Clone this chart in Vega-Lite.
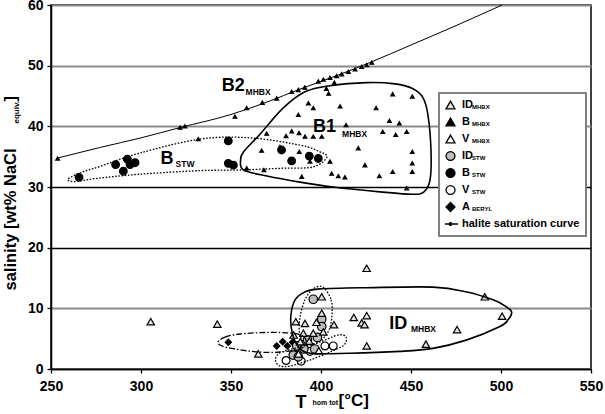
{
  "$schema": "https://vega.github.io/schema/vega-lite/v6.json",
  "width": 540,
  "height": 364,
  "autosize": {"type": "none"},
  "padding": {"left": 51, "top": 5, "right": 14, "bottom": 45},
  "background": "white",
  "config": {
    "view": {"stroke": "black", "strokeWidth": 1.5},
    "font": "Liberation Sans"
  },
  "datasets": {
    "pts": [
      {"series": "B_MHBX", "T": 253.7, "S": 34.7}, {"series": "B_MHBX", "T": 321.7, "S": 39.8}, {"series": "B_MHBX", "T": 324.4, "S": 40.0},
      {"series": "B_MHBX", "T": 331.8, "S": 37.9}, {"series": "B_MHBX", "T": 352.2, "S": 41.6}, {"series": "B_MHBX", "T": 358.7, "S": 43.0},
      {"series": "B_MHBX", "T": 367.4, "S": 43.9}, {"series": "B_MHBX", "T": 375.4, "S": 44.6}, {"series": "B_MHBX", "T": 383.7, "S": 45.7},
      {"series": "B_MHBX", "T": 387.4, "S": 46.0}, {"series": "B_MHBX", "T": 391.0, "S": 46.4}, {"series": "B_MHBX", "T": 398.5, "S": 47.4},
      {"series": "B_MHBX", "T": 401.3, "S": 47.7}, {"series": "B_MHBX", "T": 405.0, "S": 48.0}, {"series": "B_MHBX", "T": 408.7, "S": 48.3},
      {"series": "B_MHBX", "T": 411.5, "S": 48.6}, {"series": "B_MHBX", "T": 415.2, "S": 49.0}, {"series": "B_MHBX", "T": 418.9, "S": 49.4},
      {"series": "B_MHBX", "T": 422.6, "S": 49.8}, {"series": "B_MHBX", "T": 425.4, "S": 50.1}, {"series": "B_MHBX", "T": 428.2, "S": 50.5},
      {"series": "B_MHBX", "T": 403.0, "S": 46.2}, {"series": "B_MHBX", "T": 404.2, "S": 45.4}, {"series": "B_MHBX", "T": 407.4, "S": 47.2},
      {"series": "B_MHBX", "T": 387.4, "S": 41.9}, {"series": "B_MHBX", "T": 393.0, "S": 43.8}, {"series": "B_MHBX", "T": 395.7, "S": 43.0},
      {"series": "B_MHBX", "T": 410.6, "S": 43.3}, {"series": "B_MHBX", "T": 430.6, "S": 43.0}, {"series": "B_MHBX", "T": 439.8, "S": 45.3},
      {"series": "B_MHBX", "T": 450.7, "S": 44.9}, {"series": "B_MHBX", "T": 438.0, "S": 40.9}, {"series": "B_MHBX", "T": 443.5, "S": 40.5},
      {"series": "B_MHBX", "T": 413.9, "S": 40.2}, {"series": "B_MHBX", "T": 434.3, "S": 39.1}, {"series": "B_MHBX", "T": 441.5, "S": 38.6},
      {"series": "B_MHBX", "T": 447.6, "S": 39.1}, {"series": "B_MHBX", "T": 369.8, "S": 38.8}, {"series": "B_MHBX", "T": 380.6, "S": 38.4},
      {"series": "B_MHBX", "T": 383.7, "S": 39.2}, {"series": "B_MHBX", "T": 387.8, "S": 38.9}, {"series": "B_MHBX", "T": 391.1, "S": 38.3},
      {"series": "B_MHBX", "T": 395.7, "S": 38.3}, {"series": "B_MHBX", "T": 400.4, "S": 38.3}, {"series": "B_MHBX", "T": 367.0, "S": 36.0},
      {"series": "B_MHBX", "T": 377.2, "S": 36.6}, {"series": "B_MHBX", "T": 387.9, "S": 35.8}, {"series": "B_MHBX", "T": 420.7, "S": 36.4},
      {"series": "B_MHBX", "T": 450.7, "S": 35.8}, {"series": "B_MHBX", "T": 393.9, "S": 34.2}, {"series": "B_MHBX", "T": 405.0, "S": 34.2},
      {"series": "B_MHBX", "T": 424.4, "S": 33.6}, {"series": "B_MHBX", "T": 450.7, "S": 33.9}, {"series": "B_MHBX", "T": 358.7, "S": 33.1},
      {"series": "B_MHBX", "T": 368.3, "S": 32.8}, {"series": "B_MHBX", "T": 389.3, "S": 31.7}, {"series": "B_MHBX", "T": 405.9, "S": 32.2},
      {"series": "B_MHBX", "T": 409.6, "S": 31.8}, {"series": "B_MHBX", "T": 413.3, "S": 31.6}, {"series": "B_MHBX", "T": 432.4, "S": 31.8},
      {"series": "B_MHBX", "T": 439.8, "S": 32.5}, {"series": "B_MHBX", "T": 450.7, "S": 32.5}, {"series": "B_MHBX", "T": 447.6, "S": 29.8},
      {"series": "B_STW", "T": 265.6, "S": 31.6}, {"series": "B_STW", "T": 285.9, "S": 33.7}, {"series": "B_STW", "T": 290.2, "S": 32.6},
      {"series": "B_STW", "T": 292.4, "S": 34.6}, {"series": "B_STW", "T": 293.9, "S": 33.7}, {"series": "B_STW", "T": 296.7, "S": 34.0},
      {"series": "B_STW", "T": 348.5, "S": 37.6}, {"series": "B_STW", "T": 348.5, "S": 33.9}, {"series": "B_STW", "T": 351.3, "S": 33.6},
      {"series": "B_STW", "T": 378.1, "S": 36.1}, {"series": "B_STW", "T": 383.7, "S": 34.3}, {"series": "B_STW", "T": 393.5, "S": 35.1},
      {"series": "B_STW", "T": 398.5, "S": 34.7},
      {"series": "A_BERYL", "T": 348.5, "S": 4.4}, {"series": "A_BERYL", "T": 375.4, "S": 3.8}, {"series": "A_BERYL", "T": 378.7, "S": 4.5},
      {"series": "A_BERYL", "T": 381.3, "S": 3.8}, {"series": "A_BERYL", "T": 384.2, "S": 4.4}, {"series": "A_BERYL", "T": 386.8, "S": 3.3},
      {"series": "V_STW", "T": 380.6, "S": 1.4}, {"series": "V_STW", "T": 393.9, "S": 2.9}, {"series": "V_STW", "T": 402.2, "S": 3.8},
      {"series": "V_STW", "T": 406.8, "S": 3.8}, {"series": "V_STW", "T": 389.0, "S": 1.3},
      {"series": "ID_STW", "T": 395.7, "S": 11.5}, {"series": "ID_STW", "T": 400.4, "S": 8.2}, {"series": "ID_STW", "T": 400.4, "S": 7.0},
      {"series": "ID_STW", "T": 384.6, "S": 2.3}, {"series": "ID_STW", "T": 387.4, "S": 2.0}, {"series": "ID_STW", "T": 390.5, "S": 3.3},
      {"series": "ID_STW", "T": 392.5, "S": 4.8}, {"series": "ID_STW", "T": 398.0, "S": 5.2}, {"series": "ID_STW", "T": 386.5, "S": 3.8},
      {"series": "ID_STW", "T": 396.5, "S": 3.3},
      {"series": "V_MHBX", "T": 387.5, "S": 2.5}, {"series": "V_MHBX", "T": 398.8, "S": 3.0},
      {"series": "ID_MHBX", "T": 305.4, "S": 7.8}, {"series": "ID_MHBX", "T": 342.4, "S": 7.4}, {"series": "ID_MHBX", "T": 365.2, "S": 2.5},
      {"series": "ID_MHBX", "T": 425.4, "S": 16.6}, {"series": "ID_MHBX", "T": 418.2, "S": 8.5}, {"series": "ID_MHBX", "T": 425.4, "S": 8.8},
      {"series": "ID_MHBX", "T": 422.6, "S": 7.6}, {"series": "ID_MHBX", "T": 424.2, "S": 7.3}, {"series": "ID_MHBX", "T": 407.2, "S": 7.3},
      {"series": "ID_MHBX", "T": 425.4, "S": 3.8}, {"series": "ID_MHBX", "T": 458.3, "S": 4.1}, {"series": "ID_MHBX", "T": 491.0, "S": 11.9},
      {"series": "ID_MHBX", "T": 500.6, "S": 8.7}, {"series": "ID_MHBX", "T": 475.6, "S": 6.5}, {"series": "ID_MHBX", "T": 400.4, "S": 11.9},
      {"series": "ID_MHBX", "T": 400.4, "S": 9.2}, {"series": "ID_MHBX", "T": 391.1, "S": 7.5}, {"series": "ID_MHBX", "T": 401.3, "S": 6.1},
      {"series": "ID_MHBX", "T": 395.7, "S": 5.9}, {"series": "ID_MHBX", "T": 390.2, "S": 5.9}, {"series": "ID_MHBX", "T": 386.0, "S": 7.8},
      {"series": "ID_MHBX", "T": 388.5, "S": 4.5}, {"series": "ID_MHBX", "T": 393.5, "S": 4.6}, {"series": "ID_MHBX", "T": 384.8, "S": 5.6},
      {"series": "ID_MHBX", "T": 397.5, "S": 7.7}
    ],
    "halite": [
      {"T": 254, "S": 34.8}, {"T": 277, "S": 36.5}, {"T": 300, "S": 38.1}, {"T": 321.7, "S": 39.8},
      {"T": 349.4, "S": 41.9}, {"T": 370, "S": 44.0}, {"T": 388, "S": 46.1}, {"T": 410, "S": 48.5},
      {"T": 427, "S": 50.5}, {"T": 450, "S": 53.4}, {"T": 475, "S": 56.6}, {"T": 500.6, "S": 60}
    ],
    "outlines": [
      {"g": "B1", "i": 1, "T": 355.3, "S": 34.4}, {"g": "B1", "i": 2, "T": 357.0, "S": 35.8}, {"g": "B1", "i": 3, "T": 366.1, "S": 38.7},
      {"g": "B1", "i": 4, "T": 378.9, "S": 43.0}, {"g": "B1", "i": 5, "T": 391.1, "S": 45.7}, {"g": "B1", "i": 6, "T": 405.0, "S": 46.7},
      {"g": "B1", "i": 7, "T": 425.6, "S": 47.2}, {"g": "B1", "i": 8, "T": 441.1, "S": 47.0}, {"g": "B1", "i": 9, "T": 451.1, "S": 46.2},
      {"g": "B1", "i": 10, "T": 456.7, "S": 44.7}, {"g": "B1", "i": 11, "T": 459.4, "S": 41.9}, {"g": "B1", "i": 12, "T": 461.1, "S": 36.1},
      {"g": "B1", "i": 13, "T": 460.6, "S": 31.2}, {"g": "B1", "i": 14, "T": 457.2, "S": 29.2}, {"g": "B1", "i": 15, "T": 450.6, "S": 28.8},
      {"g": "B1", "i": 16, "T": 432.8, "S": 29.2}, {"g": "B1", "i": 17, "T": 406.7, "S": 30.0}, {"g": "B1", "i": 18, "T": 388.3, "S": 30.8},
      {"g": "B1", "i": 19, "T": 370.0, "S": 31.8}, {"g": "B1", "i": 20, "T": 357.0, "S": 32.8},
      {"g": "IDM", "i": 1, "T": 385.6, "S": 11.4}, {"g": "IDM", "i": 2, "T": 391.1, "S": 12.7}, {"g": "IDM", "i": 3, "T": 399.4, "S": 13.2},
      {"g": "IDM", "i": 4, "T": 425.6, "S": 13.4}, {"g": "IDM", "i": 5, "T": 462.2, "S": 13.5}, {"g": "IDM", "i": 6, "T": 481.1, "S": 12.7},
      {"g": "IDM", "i": 7, "T": 495.6, "S": 11.4}, {"g": "IDM", "i": 8, "T": 502.2, "S": 10.4}, {"g": "IDM", "i": 9, "T": 505.9, "S": 9.4},
      {"g": "IDM", "i": 10, "T": 503.9, "S": 8.1}, {"g": "IDM", "i": 11, "T": 499.4, "S": 7.0}, {"g": "IDM", "i": 12, "T": 481.1, "S": 4.8},
      {"g": "IDM", "i": 13, "T": 462.2, "S": 3.4}, {"g": "IDM", "i": 14, "T": 443.9, "S": 2.9}, {"g": "IDM", "i": 15, "T": 416.1, "S": 2.6},
      {"g": "IDM", "i": 16, "T": 393.9, "S": 2.6}, {"g": "IDM", "i": 17, "T": 387.2, "S": 3.8}, {"g": "IDM", "i": 18, "T": 383.9, "S": 6.1},
      {"g": "IDM", "i": 19, "T": 383.3, "S": 8.9},
      {"g": "BSTW", "i": 1, "T": 259.4, "S": 31.3}, {"g": "BSTW", "i": 2, "T": 266.0, "S": 32.3}, {"g": "BSTW", "i": 3, "T": 277.2, "S": 33.4},
      {"g": "BSTW", "i": 4, "T": 299.4, "S": 35.6}, {"g": "BSTW", "i": 5, "T": 332.8, "S": 37.9}, {"g": "BSTW", "i": 6, "T": 360.6, "S": 38.1},
      {"g": "BSTW", "i": 7, "T": 388.3, "S": 36.9}, {"g": "BSTW", "i": 8, "T": 399.4, "S": 35.8}, {"g": "BSTW", "i": 9, "T": 403.3, "S": 34.9},
      {"g": "BSTW", "i": 10, "T": 395.6, "S": 33.3}, {"g": "BSTW", "i": 11, "T": 378.9, "S": 33.1}, {"g": "BSTW", "i": 12, "T": 355.0, "S": 32.8},
      {"g": "BSTW", "i": 13, "T": 332.8, "S": 32.7}, {"g": "BSTW", "i": 14, "T": 299.0, "S": 32.1}, {"g": "BSTW", "i": 15, "T": 275.0, "S": 31.4},
      {"g": "BSTW", "i": 16, "T": 263.0, "S": 30.9},
      {"g": "VSTW", "i": 1, "T": 375.0, "S": 1.98}, {"g": "VSTW", "i": 2, "T": 378.3, "S": 2.8}, {"g": "VSTW", "i": 3, "T": 388.3, "S": 3.63},
      {"g": "VSTW", "i": 4, "T": 399.4, "S": 4.45}, {"g": "VSTW", "i": 5, "T": 409.4, "S": 5.6}, {"g": "VSTW", "i": 6, "T": 413.9, "S": 5.27},
      {"g": "VSTW", "i": 7, "T": 412.8, "S": 3.96}, {"g": "VSTW", "i": 8, "T": 405.0, "S": 2.8}, {"g": "VSTW", "i": 9, "T": 393.9, "S": 1.48},
      {"g": "VSTW", "i": 10, "T": 382.8, "S": 0.49}, {"g": "VSTW", "i": 11, "T": 377.2, "S": 0.49}, {"g": "VSTW", "i": 12, "T": 375.0, "S": 1.15},
      {"g": "IDSTW", "i": 1, "T": 401.1, "S": 13.5}, {"g": "IDSTW", "i": 2, "T": 405.6, "S": 11.4}, {"g": "IDSTW", "i": 3, "T": 406.1, "S": 8.9},
      {"g": "IDSTW", "i": 4, "T": 404.4, "S": 6.4}, {"g": "IDSTW", "i": 5, "T": 399.4, "S": 4.6}, {"g": "IDSTW", "i": 6, "T": 392.8, "S": 3.96},
      {"g": "IDSTW", "i": 7, "T": 388.3, "S": 5.6}, {"g": "IDSTW", "i": 8, "T": 388.3, "S": 8.4}, {"g": "IDSTW", "i": 9, "T": 391.1, "S": 11.4},
      {"g": "IDSTW", "i": 10, "T": 395.6, "S": 13.2},
      {"g": "BER", "i": 1, "T": 342.8, "S": 4.45}, {"g": "BER", "i": 2, "T": 346.7, "S": 5.27}, {"g": "BER", "i": 3, "T": 355.0, "S": 5.77},
      {"g": "BER", "i": 4, "T": 370.0, "S": 6.02}, {"g": "BER", "i": 5, "T": 382.8, "S": 5.93}, {"g": "BER", "i": 6, "T": 390.0, "S": 5.44},
      {"g": "BER", "i": 7, "T": 391.7, "S": 4.29}, {"g": "BER", "i": 8, "T": 388.3, "S": 3.3}, {"g": "BER", "i": 9, "T": 377.2, "S": 2.8},
      {"g": "BER", "i": 10, "T": 365.0, "S": 2.8}, {"g": "BER", "i": 11, "T": 352.2, "S": 3.3}, {"g": "BER", "i": 12, "T": 345.0, "S": 3.79}
    ],
    "lab1": [
      {"t": "B2", "T": 344.8, "S": 45.87}, {"t": "B1", "T": 395.6, "S": 39.06},
      {"t": "B", "T": 310.9, "S": 33.79}, {"t": "ID", "T": 437.9, "S": 6.54}
    ],
    "lab2": [
      {"t": "MHBX", "T": 358.1, "S": 45.16}, {"t": "MHBX", "T": 411.7, "S": 38.24},
      {"t": "STW", "T": 319.2, "S": 33.3}, {"t": "MHBX", "T": 450.0, "S": 6.1}
    ]
  },
  "resolve": {"axis": {"x": "independent", "y": "independent"}},
  "layer": [
    {
      "data": {"name": "halite"},
      "mark": {"type": "line", "stroke": "black", "strokeWidth": 1, "interpolate": "monotone"},
      "encoding": {
        "x": {"field": "T", "type": "quantitative", "scale": {"domain": [250, 550], "nice": false, "zero": false}, "axis": null},
        "y": {"field": "S", "type": "quantitative", "scale": {"domain": [0, 60], "nice": false}, "axis": null}
      }
    },
    {
      "data": {"name": "pts"},
      "mark": {"type": "point", "filled": true, "opacity": 1, "stroke": "black", "strokeWidth": 1.2},
      "encoding": {
        "x": {"field": "T", "type": "quantitative", "scale": {"domain": [250, 550], "nice": false, "zero": false}, "axis": null},
        "y": {"field": "S", "type": "quantitative", "scale": {"domain": [0, 60], "nice": false}, "axis": null},
        "shape": {
          "field": "series", "type": "nominal",
          "scale": {
            "domain": ["ID_MHBX", "B_MHBX", "V_MHBX", "ID_STW", "B_STW", "V_STW", "A_BERYL", "halite saturation curve"],
            "range": ["triangle-up", "triangle-up", "triangle-up", "circle", "circle", "circle", "diamond", "M-1.7,0L1.7,0M-0.3,0A0.3,0.3,0,1,1,0.3,0A0.3,0.3,0,1,1,-0.3,0Z"]
          },
          "legend": {
            "orient": "none", "legendX": 388, "legendY": 88, "title": null,
            "fillColor": "white", "strokeColor": "#808080", "padding": 6,
            "symbolSize": 80, "symbolOpacity": 1, "symbolStrokeColor": "black", "symbolStrokeWidth": 1.3,
            "labelFont": "Liberation Sans", "labelFontWeight": "bold", "labelFontSize": 11, "labelColor": "black",
            "labelOffset": 6, "rowPadding": 5, "labelLimit": 300, "clipHeight": 12,
            "labelExpr": "split(datum.label, '_')[0]", "zindex": 1,
            "encode": {"symbols": {"update": {"stroke": {"value": "black"}, "strokeWidth": {"value": 1.3}}}, "legend": {"update": {"strokeWidth": {"value": 2}}}}
          }
        },
        "fill": {
          "field": "series", "type": "nominal",
          "scale": {
            "domain": ["ID_MHBX", "B_MHBX", "V_MHBX", "ID_STW", "B_STW", "V_STW", "A_BERYL", "halite saturation curve"],
            "range": ["#e2e2e2", "black", "white", "#bdbdbd", "black", "white", "black", "black"]
          },
          "legend": {
            "orient": "none", "legendX": 388, "legendY": 88, "title": null,
            "fillColor": "white", "strokeColor": "#808080", "padding": 6,
            "symbolSize": 80, "symbolOpacity": 1, "symbolStrokeColor": "black", "symbolStrokeWidth": 1.3,
            "labelFont": "Liberation Sans", "labelFontWeight": "bold", "labelFontSize": 11, "labelColor": "black",
            "labelOffset": 6, "rowPadding": 5, "labelLimit": 300, "clipHeight": 12,
            "labelExpr": "split(datum.label, '_')[0]", "zindex": 1,
            "encode": {"symbols": {"update": {"stroke": {"value": "black"}, "strokeWidth": {"value": 1.3}}}, "legend": {"update": {"strokeWidth": {"value": 2}}}}
          }
        },
        "size": {
          "field": "series", "type": "nominal",
          "scale": {
            "type": "ordinal",
            "domain": ["B_MHBX", "ID_MHBX", "V_MHBX", "ID_STW", "B_STW", "V_STW", "A_BERYL"],
            "range": [14, 55, 55, 72, 58, 62, 40]
          },
          "legend": null
        },
        "opacity": {
          "field": "series", "type": "nominal",
          "scale": {"domain": ["ID_MHBX", "B_MHBX", "V_MHBX", "ID_STW", "B_STW", "V_STW", "A_BERYL"], "range": [1, 1, 1, 1, 1, 1, 1]},
          "legend": {
            "orient": "none", "legendX": 409, "legendY": 96, "title": null, "padding": 0,
            "symbolSize": 144, "symbolFillColor": "transparent", "symbolStrokeColor": "transparent", "symbolStrokeWidth": 0,
            "labelFont": "Liberation Sans", "labelFontWeight": "bold", "labelFontSize": 6, "labelColor": "black",
            "labelOffset": 0, "rowPadding": 5, "clipHeight": 12,
            "labelExpr": "split(datum.label, '_')[1]", "zindex": 2
          }
        }
      }
    },
    {
      "data": {"name": "outlines"},
      "transform": [{"filter": {"field": "g", "oneOf": ["B1", "IDM"]}}],
      "mark": {"type": "line", "interpolate": "cardinal-closed", "stroke": "black", "strokeWidth": 1.6},
      "encoding": {
        "x": {
          "field": "T", "type": "quantitative", "scale": {"domain": [250, 550], "nice": false, "zero": false},
          "axis": {
            "orient": "bottom", "values": [250, 300, 350, 400, 450, 500, 550],
            "title": "T", "titleX": 244, "titleY": 38, "titleAlign": "left", "titleBaseline": "alphabetic",
            "titleFont": "Liberation Sans", "titleFontWeight": "bold", "titleFontSize": 18, "titleColor": "black",
            "labelFont": "Liberation Sans", "labelFontWeight": "bold", "labelFontSize": 14, "labelColor": "black",
            "labelPadding": 6, "labelFlush": false, "tickSize": 4, "tickColor": "black", "tickWidth": 1.3,
            "domainColor": "black", "domainWidth": 1.5, "grid": false
          }
        },
        "y": {
          "field": "S", "type": "quantitative", "scale": {"domain": [0, 60], "nice": false},
          "axis": {
            "orient": "left", "values": [0, 10, 20, 30, 40, 50, 60],
            "title": "salinity [wt% NaCl", "titleAngle": 270, "titleX": -36, "titleY": 285,
            "titleAlign": "left", "titleBaseline": "alphabetic",
            "titleFont": "Liberation Sans", "titleFontWeight": "bold", "titleFontSize": 16.5, "titleColor": "black",
            "labelFont": "Liberation Sans", "labelFontWeight": "bold", "labelFontSize": 14, "labelColor": "black",
            "labelPadding": 4, "labelFlush": false, "tickSize": 4, "tickColor": "black", "tickWidth": 1.3,
            "domainColor": "black", "domainWidth": 1.5,
            "grid": true,
            "gridColor": {"condition": {"test": "datum.value == 20 || datum.value == 30", "value": "black"}, "value": "#8a8a8a"},
            "gridWidth": {"condition": {"test": "datum.value == 20 || datum.value == 30", "value": 1.4}, "value": 2.2}
          }
        },
        "detail": {"field": "g", "type": "nominal"},
        "order": {"field": "i", "type": "quantitative"}
      }
    },
    {
      "data": {"name": "outlines"},
      "transform": [{"filter": {"field": "g", "oneOf": ["BSTW", "VSTW", "IDSTW"]}}],
      "mark": {"type": "line", "interpolate": "cardinal-closed", "stroke": "black", "strokeWidth": 1.3, "strokeDash": [1.6, 1.6]},
      "encoding": {
        "x": {
          "field": "T", "type": "quantitative", "scale": {"domain": [250, 550], "nice": false, "zero": false},
          "axis": {
            "orient": "bottom", "labels": false, "ticks": false, "domain": false, "grid": false,
            "title": "hom tot", "titleX": 261, "titleY": 35, "titleAlign": "left", "titleBaseline": "alphabetic",
            "titleFont": "Liberation Sans", "titleFontWeight": "bold", "titleFontSize": 7, "titleColor": "black"
          }
        },
        "y": {
          "field": "S", "type": "quantitative", "scale": {"domain": [0, 60], "nice": false},
          "axis": {
            "orient": "left", "labels": false, "ticks": false, "domain": false, "grid": false,
            "title": "equiv.", "titleAngle": 270, "titleX": -33, "titleY": 118, "titleAlign": "left", "titleBaseline": "alphabetic",
            "titleFont": "Liberation Sans", "titleFontWeight": "bold", "titleFontSize": 8, "titleColor": "black"
          }
        },
        "detail": {"field": "g", "type": "nominal"},
        "order": {"field": "i", "type": "quantitative"}
      }
    },
    {
      "data": {"name": "outlines"},
      "transform": [{"filter": {"field": "g", "equal": "BER"}}],
      "mark": {"type": "line", "interpolate": "cardinal-closed", "stroke": "black", "strokeWidth": 1.3, "strokeDash": [6, 2, 1.5, 2]},
      "encoding": {
        "x": {
          "field": "T", "type": "quantitative", "scale": {"domain": [250, 550], "nice": false, "zero": false},
          "axis": {
            "orient": "bottom", "labels": false, "ticks": false, "domain": false, "grid": false,
            "title": "[°C]", "titleX": 287, "titleY": 36, "titleAlign": "left", "titleBaseline": "alphabetic",
            "titleFont": "Liberation Sans", "titleFontWeight": "bold", "titleFontSize": 17, "titleColor": "black"
          }
        },
        "y": {
          "field": "S", "type": "quantitative", "scale": {"domain": [0, 60], "nice": false},
          "axis": {
            "orient": "left", "labels": false, "ticks": false, "domain": false, "grid": false,
            "title": "]", "titleAngle": 270, "titleX": -36, "titleY": 96, "titleAlign": "left", "titleBaseline": "alphabetic",
            "titleFont": "Liberation Sans", "titleFontWeight": "bold", "titleFontSize": 16.5, "titleColor": "black"
          }
        },
        "order": {"field": "i", "type": "quantitative"}
      }
    },
    {
      "data": {"name": "lab1"},
      "mark": {"type": "text", "align": "left", "baseline": "alphabetic", "font": "Liberation Sans", "fontWeight": "bold", "fontSize": 18, "color": "black"},
      "encoding": {
        "x": {"field": "T", "type": "quantitative", "scale": {"domain": [250, 550], "nice": false, "zero": false}, "axis": null},
        "y": {"field": "S", "type": "quantitative", "scale": {"domain": [0, 60], "nice": false}, "axis": null},
        "text": {"field": "t"}
      }
    },
    {
      "data": {"name": "lab2"},
      "mark": {"type": "text", "align": "left", "baseline": "alphabetic", "font": "Liberation Sans", "fontWeight": "bold", "fontSize": 8.5, "color": "black"},
      "encoding": {
        "x": {"field": "T", "type": "quantitative", "scale": {"domain": [250, 550], "nice": false, "zero": false}, "axis": null},
        "y": {"field": "S", "type": "quantitative", "scale": {"domain": [0, 60], "nice": false}, "axis": null},
        "text": {"field": "t"}
      }
    }
  ]
}
